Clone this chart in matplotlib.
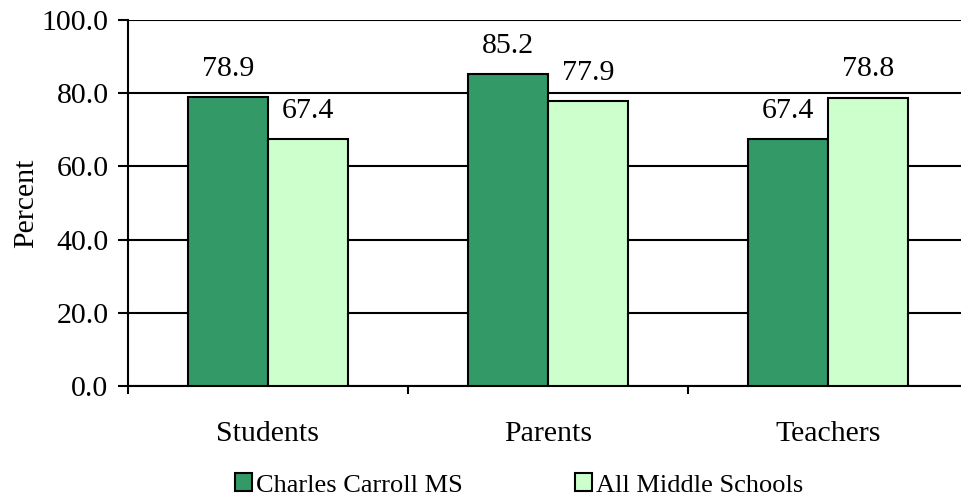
import numpy as np
import matplotlib.pyplot as plt
from matplotlib.patches import Patch

plt.rcParams['font.family'] = ['Liberation Serif', 'DejaVu Serif']

categories = ['Students', 'Parents', 'Teachers']
school_vals = [78.9, 85.2, 67.4]
all_ms_vals = [67.4, 77.9, 78.8]
series_names = ['Charles Carroll MS', 'All Middle Schools']
colors = ['#339966', '#CCFFCC']

fig = plt.figure(figsize=(9.61, 5.0), dpi=100)
# axes spans past the right edge of the image, as in the reference
ax = fig.add_axes([128 / 961, (500 - 386) / 500, 840 / 961, 366 / 500])

fs = 21.5
x = np.arange(len(categories))
w = 80 / 280
for i, (vals, c) in enumerate(zip([school_vals, all_ms_vals], colors)):
    pos = x + (i - 0.5) * w
    bars = ax.bar(pos, vals, width=w, color=c, edgecolor='black', linewidth=1.5, zorder=3)
    for b, v in zip(bars, vals):
        ax.annotate(f'{v:.1f}', (b.get_x() + b.get_width() / 2, v),
                    xytext=(0, 11), textcoords='offset points',
                    ha='center', va='bottom', fontsize=fs)

ax.set_xlim(-0.5, 2.5)
ax.set_ylim(0, 100)
ax.set_yticks(np.arange(0, 101, 20))
ax.set_yticklabels([f'{t:.1f}' for t in np.arange(0, 101, 20)])
ax.yaxis.grid(True, color='black', linewidth=1.5, zorder=0)
ax.set_axisbelow(True)

ax.set_xticks(x)
ax.set_xticklabels(categories)
ax.set_xticks([-0.5, 0.5, 1.5], minor=True)
ax.tick_params(axis='x', which='major', length=0, pad=25, labelsize=fs)
ax.tick_params(axis='x', which='minor', length=6, width=1.5, direction='out')
ax.tick_params(axis='y', length=7, width=1.5, direction='out', labelsize=fs, pad=7)

for s in ['top', 'right']:
    ax.spines[s].set_visible(False)
for s in ['left', 'bottom']:
    ax.spines[s].set_linewidth(1.5)

ax.set_ylabel('Percent', fontsize=fs, labelpad=2)

handles = [Patch(facecolor=c, edgecolor='black', linewidth=1.5) for c in colors]
fig.legend(handles, series_names, loc='center', bbox_to_anchor=(0.54, 15 / 500),
           ncol=2, frameon=False, fontsize=19, handlelength=0.65, handleheight=0.65,
           handletextpad=0.15, columnspacing=4.25, borderpad=0)

fig.savefig('out.png', dpi=100)
